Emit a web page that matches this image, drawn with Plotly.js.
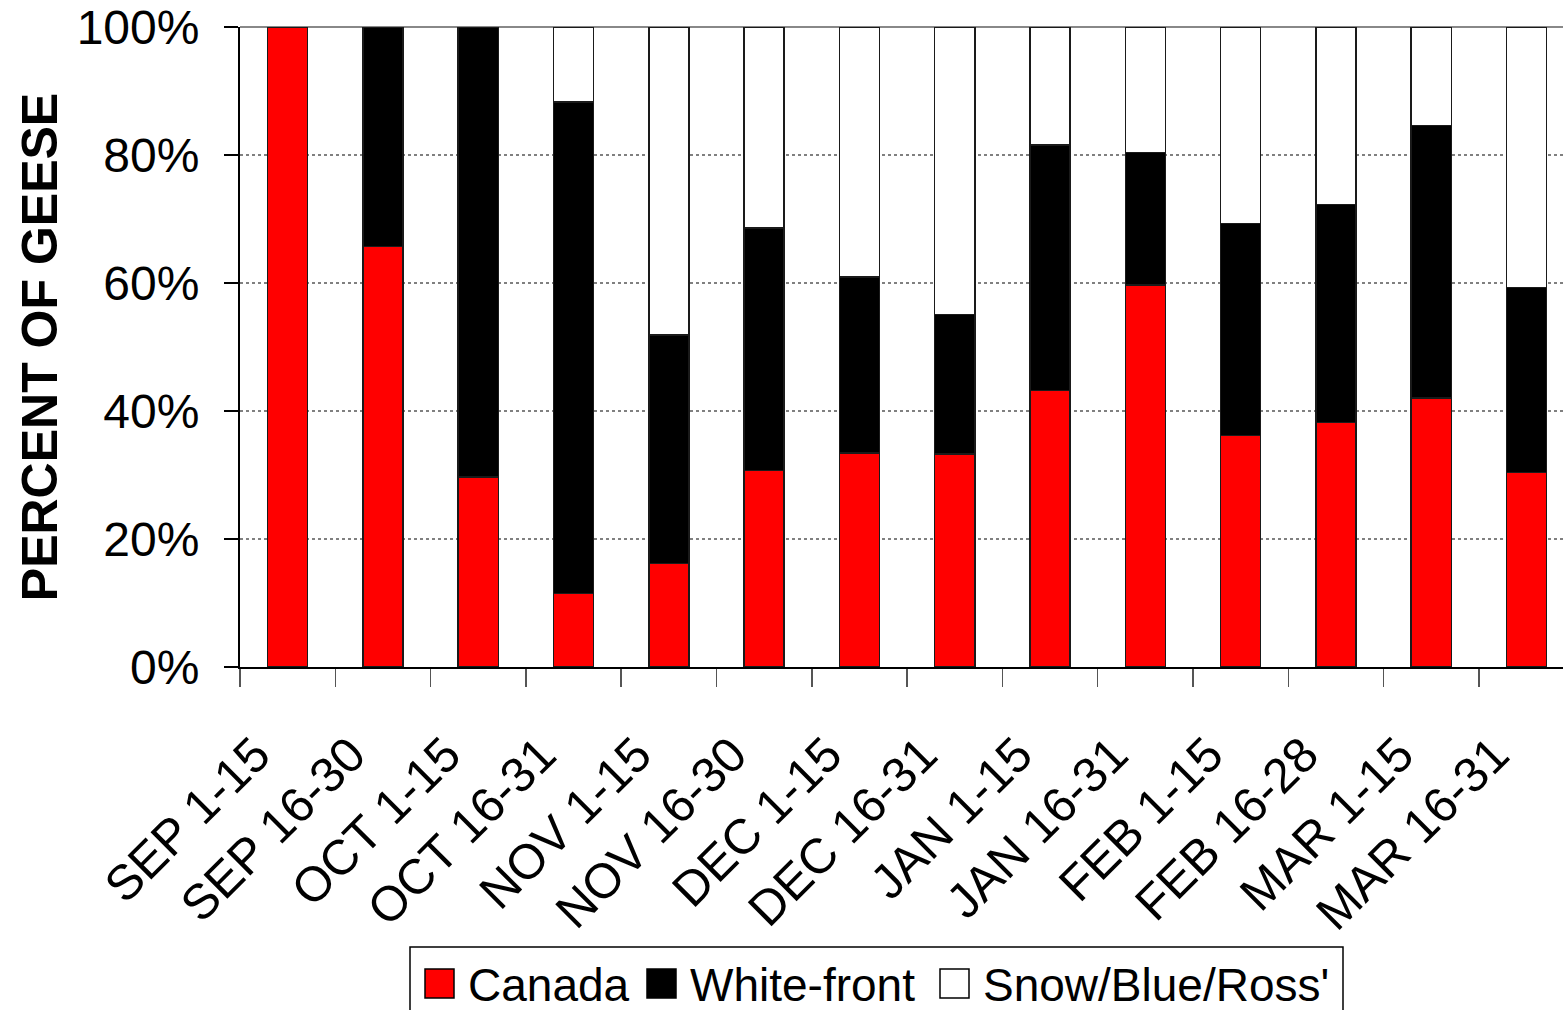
<!DOCTYPE html>
<html>
<head>
<meta charset="utf-8">
<script src="https://cdn.plot.ly/plotly-3.0.1.min.js"></script>
<style>
  html, body { margin: 0; padding: 0; background: #ffffff; }
  #chart { width: 1563px; height: 1010px; }
</style>
</head>
<body>
<div id="chart"></div>
<script>
// ---- data (percent of geese) ----
const periods = ["SEP 1-15", "SEP 16-30", "OCT 1-15", "OCT 16-31", "NOV 1-15", "NOV 16-30",
                 "DEC 1-15", "DEC 16-31", "JAN 1-15", "JAN 16-31", "FEB 1-15", "FEB 16-28",
                 "MAR 1-15", "MAR 16-31"];
const canada     = [100, 65.7, 29.7, 11.5, 16.2, 30.7, 33.4, 33.3, 43.2, 59.7, 36.2, 38.2, 42.0, 30.4];
const whiteFront = [0, 34.3, 70.3, 76.8, 35.7, 37.9, 27.5, 21.8, 38.4, 20.7, 33.1, 34.1, 42.6, 28.9];
const snowBlueRoss = [0, 0, 0, 11.7, 48.1, 31.4, 39.1, 44.9, 18.4, 19.6, 30.7, 27.7, 15.4, 40.7];
const seriesNames = ["Canada", "White-front", "Snow/Blue/Ross'"];
const yTicks = [0, 20, 40, 60, 80, 100];
const yTickLabels = ["0%", "20%", "40%", "60%", "80%", "100%"];

// ---- styling ----
const FONT = "Liberation Sans, Arial, Helvetica, sans-serif";
const colors = ["#FF0000", "#000000", "#FFFFFF"];
const W = 1563, H = 1010;
const M = { l: 240, r: 0, t: 27, b: 343 };
const plotW = W - M.l - M.r, plotH = H - M.t - M.b;
const catPx = 95.3; // pixel width of one category
const xMax = -0.5 + plotW / catPx;

const px2x = p => (p - M.l) / plotW;
const px2y = p => (H - M.b - p) / plotH;

const seriesVals = [canada, whiteFront, snowBlueRoss];
const traces = seriesVals.map((vals, i) => ({
  type: "bar",
  x: periods,
  y: vals,
  name: seriesNames[i],
  marker: { color: colors[i], line: { color: "#1a1a1a", width: 1.5 } },
  showlegend: false,
  hoverinfo: "x+y+name"
}));

// custom legend (big square swatches like the original)
const legendItems = [
  { sq: 425, tx: 466 },
  { sq: 647, tx: 688 },
  { sq: 940, tx: 981 }
];
const sqSize = 29, legCy = 983.5;
const shapes = [
  // top frame line at 100%
  { type: "line", xref: "paper", yref: "paper", x0: 0, x1: 1, y0: 1, y1: 1,
    line: { color: "#888888", width: 2 }, layer: "below" },
  // legend border
  { type: "rect", xref: "paper", yref: "paper",
    x0: px2x(410), x1: px2x(1343), y0: px2y(947), y1: px2y(1040),
    line: { color: "#000000", width: 1.5 }, fillcolor: "rgba(255,255,255,0)" }
];
const annotations = [];
legendItems.forEach((it, i) => {
  shapes.push({ type: "rect", xref: "paper", yref: "paper",
    x0: px2x(it.sq), x1: px2x(it.sq + sqSize), y0: px2y(legCy + sqSize / 2), y1: px2y(legCy - sqSize / 2),
    line: { color: "#000000", width: 1.5 }, fillcolor: colors[i] });
  annotations.push({ xref: "paper", yref: "paper", x: px2x(it.tx), y: px2y(legCy + 1),
    xanchor: "left", yanchor: "middle", showarrow: false, text: seriesNames[i],
    font: { family: FONT, size: 46, color: "#000000" } });
});

const layout = {
  width: W, height: H,
  margin: { l: M.l, r: M.r, t: M.t, b: M.b, pad: 0, autoexpand: false },
  paper_bgcolor: "#ffffff", plot_bgcolor: "#ffffff",
  barmode: "stack",
  bargap: 0.58,
  font: { family: FONT, color: "#000000" },
  showlegend: false,
  xaxis: {
    type: "category",
    range: [-0.5, xMax],
    showline: true, linecolor: "#000000", linewidth: 2,
    ticks: "outside", tickson: "boundaries", ticklen: 18, tickwidth: 1.5, tickcolor: "#555555",
    tickangle: -45,
    tickfont: { family: FONT, size: 49, color: "#000000" },
    ticklabelstandoff: 37,
    ticklabelshift: -32,
    showgrid: false, zeroline: false, automargin: false, fixedrange: true
  },
  yaxis: {
    range: [0, 100],
    tickmode: "array", tickvals: yTicks, ticktext: yTickLabels,
    showline: true, linecolor: "#000000", linewidth: 2,
    ticks: "outside", ticklen: 14, tickwidth: 1.5, tickcolor: "#000000",
    tickfont: { family: FONT, size: 48, color: "#000000" },
    ticklabelstandoff: 15,
    showgrid: true, gridcolor: "#808080", gridwidth: 1.5, griddash: "dot",
    zeroline: false, automargin: false, fixedrange: true,
    title: { text: "<b>PERCENT OF GEESE</b>", font: { family: FONT, size: 50, color: "#000000" }, standoff: 3 }
  },
  shapes: shapes,
  annotations: annotations
};

Plotly.newPlot("chart", traces, layout, { displayModeBar: false, staticPlot: true });
</script>
</body>
</html>
